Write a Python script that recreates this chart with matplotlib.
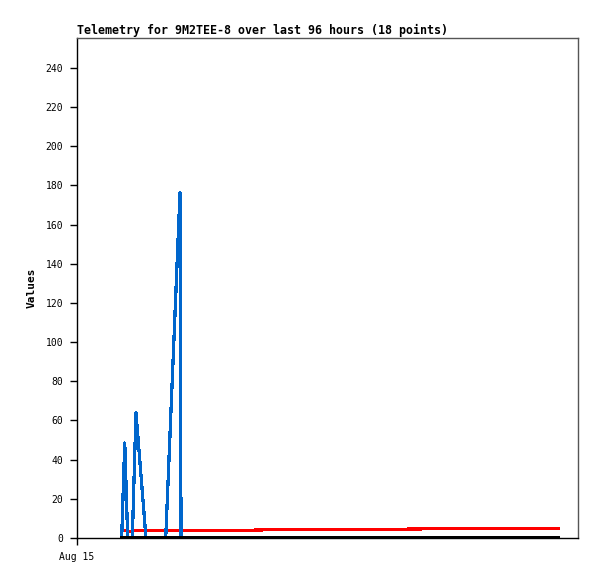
import matplotlib
matplotlib.use("Agg")
import matplotlib.pyplot as plt

# hours since Aug 15 00:00
hours = [8.56, 9.15, 9.71, 10.16, 10.60, 11.30, 13.22, 17.0, 19.74, 19.93, 39.28, 74.67, 92.2]
blue_vals = [0, 48.5, 0, 0, 0, 64.0, 0, 0, 176.5, 0, 0, 0, 0]
red_vals = [3.7, 3.7, 3.7, 3.2, 3.7, 3.7, 3.7, 3.7, 3.7, 3.7, 4.2, 4.75, 4.9]
black_vals = [0, 0, 0, 0, 0, 0, 0, 0, 0, 0, 0, 0, 0]

yticks = list(range(0, 241, 20))
xtick_pos = [0]
xtick_labels = ["Aug 15"]
title = "Telemetry for 9M2TEE-8 over last 96 hours (18 points)"

W, H = 597, 579
fig = plt.figure(figsize=(W / 100, H / 100), dpi=100)
L, R, T, B = 77, 578, 38, 538
ax = fig.add_axes([L / W, 1 - B / H, (R - L) / W, (B - T) / H])

mono = "DejaVu Sans Mono"
ax.plot(hours, red_vals, color="#ff0000", lw=1.5, antialiased=False, zorder=3)
ax.plot(hours, blue_vals, color="#0066cc", lw=1.6, antialiased=False, zorder=4)
ax.plot(hours, black_vals, color="#000000", lw=1.6, antialiased=False, zorder=5)

ax.set_xlim(0, 96)
ax.set_ylim(0, 255.3)
ax.set_yticks(yticks)
ax.set_yticklabels([str(v) for v in yticks], fontfamily=mono, fontsize=7)
ax.set_xticks(xtick_pos)
ax.set_xticklabels(xtick_labels, fontfamily=mono, fontsize=7)
ax.tick_params(axis="both", direction="out", length=5, width=1, color="black", pad=5)

for s in ["left", "bottom"]:
    ax.spines[s].set_color("black")
    ax.spines[s].set_linewidth(1)
for s in ["top", "right"]:
    ax.spines[s].set_color("#555555")
    ax.spines[s].set_linewidth(1)

ax.set_ylabel("Values", fontfamily=mono, fontsize=8, fontweight="bold", labelpad=6)
ax.set_title(title, loc="left", fontfamily=mono, fontsize=8.35, fontweight="bold", pad=3)

fig.savefig("out.png", dpi=100, facecolor="white")
